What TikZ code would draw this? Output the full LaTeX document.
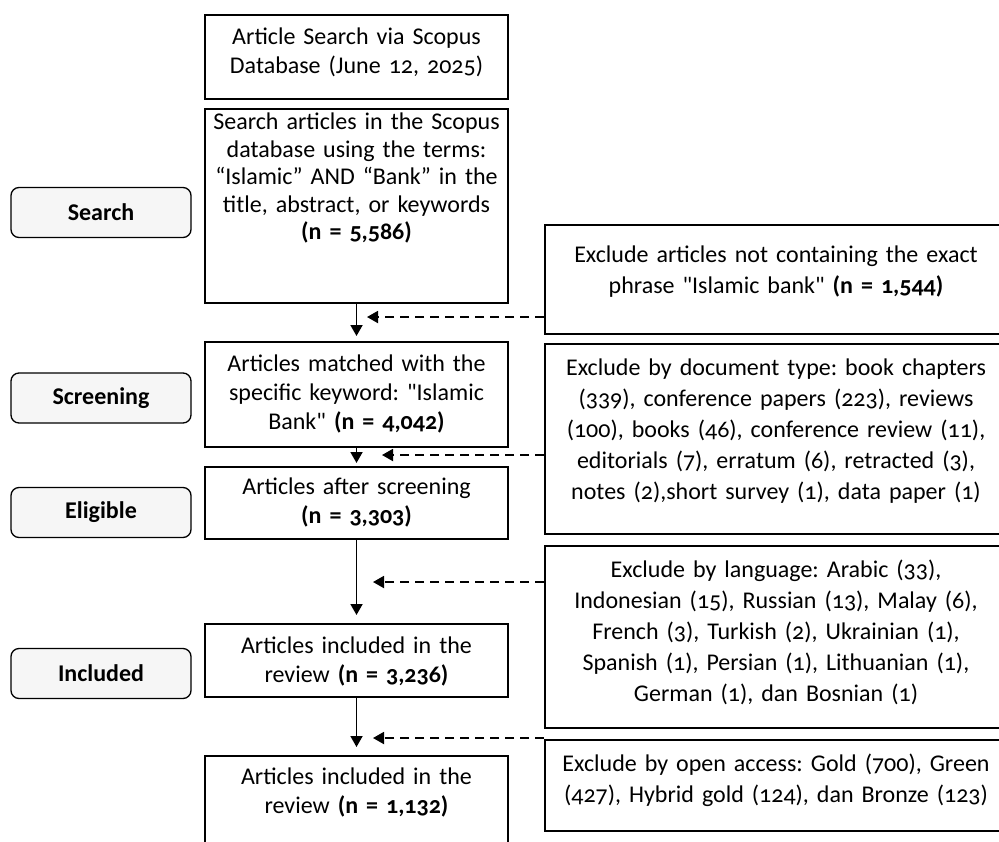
\documentclass[tikz,border=0pt]{standalone}
\usepackage{fontspec}
\setmainfont{Carlito}[Numbers=OldStyle, Ligatures=TeXOff]
\usetikzlibrary{arrows.meta}
\frenchspacing

\begin{document}
\begin{tikzpicture}[x=1pt, y=-1pt,
    stage/.style={draw, line width=1.3pt, rounded corners=8pt, fill=gray!7,
        minimum width=180pt, minimum height=50pt, inner sep=0pt,
        font={\fontsize{24}{29}\selectfont\bfseries}},
    midbox/.style={draw, line width=1.8pt, anchor=north, align=center,
        text width=303pt, inner xsep=0pt, inner ysep=0pt,
        font={\fontsize{24}{29}\selectfont}},
    sidebox/.style={midbox, text width=462pt, font={\fontsize{24}{31}\selectfont}},
    flow/.style={line width=1.8pt, -{Triangle[length=11pt,width=12pt]}, shorten >=5pt},
    exclarrow/.style={line width=1.8pt, dash pattern=on 9pt off 6pt,
        -{Triangle[length=11pt,width=12pt]}}]
    \fill[white] (0,0) rectangle (999,841);
    \useasboundingbox (0,0) rectangle (999,841);
    \clip (0,0) rectangle (999,841);

    % stages
    \node[stage] (search) at (101,212.5) {Search};
    \node[stage] (screen) at (101,398) {Screening};
    \node[stage] (elig) at (101,512.5) {Eligible};
    \node[stage] (incl) at (101,673.5) {Included};

    % main column
    \node[midbox, text height=30pt, text depth=54pt] (b1) at (356.5,14)
        {Article Search via Scopus\\Database (June 12, 2025)};
    \node[midbox, text height=21pt, text depth=173pt, font={\fontsize{24}{27.5}\selectfont}] (b2) at (356.5,108)
        {Search articles in the Scopus\\database using the terms:\\“Islamic” AND “Bank” in the\\title, abstract, or keywords\\\textbf{(n = 5,586)}};
    \node[midbox, text height=30pt, text depth=75pt] (b3) at (356.5,341)
        {Articles matched with the\\specific keyword: "Islamic\\Bank" \textbf{(n = 4,042)}};
    \node[midbox, text height=28pt, text depth=44pt] (b4) at (356.5,466)
        {Articles after screening\\\textbf{(n = 3,303)}};
    \node[midbox, text height=30pt, text depth=43pt] (b5) at (356.5,623)
        {Articles included in the\\review \textbf{(n = 3,236)}};
    \node[midbox, text height=29pt, text depth=76pt] (b6) at (356.5,755)
        {Articles included in the\\review \textbf{(n = 1,132)}};

    % exclusions
    \node[sidebox, text height=38pt, text depth=71pt] (r1) at (776,224)
        {Exclude articles not containing the exact\\phrase "Islamic bank" \textbf{(n = 1,544)}};
    \node[sidebox, text height=32pt, text depth=158pt] (r2) at (776,343)
        {Exclude by document type: book chapters\\(339), conference papers (223), reviews\\(100), books (46), conference review (11),\\editorials (7), erratum (6), retracted (3),\\notes (2),short survey (1), data paper (1)};
    \node[sidebox, text height=32pt, text depth=150pt] (r3) at (776,545)
        {Exclude by language: Arabic (33),\\Indonesian (15), Russian (13), Malay (6),\\French (3), Turkish (2), Ukrainian (1),\\Spanish (1), Persian (1), Lithuanian (1),\\German (1), dan Bosnian (1)};
    \node[sidebox, text height=32pt, text depth=59pt] (r4) at (776,739)
        {Exclude by open access: Gold (700), Green\\(427), Hybrid gold (124), dan Bronze (123)};

    \draw[flow] (b2) -- (b3);
    \draw[flow, shorten >=3pt] (b3) -- (b4);
    \draw[flow, shorten >=8pt] (b4) -- (b5);
    \draw[flow, shorten >=8pt] (b5) -- (b6);

    \coordinate (t1) at (367,317);
    \coordinate (t2) at (382,455);
    \coordinate (t3) at (373,582);
    \coordinate (t4) at (373,738);
    \draw[exclarrow] (r1.west |- t1) -- (t1);
    \draw[exclarrow] (r2.west |- t2) -- (t2);
    \draw[exclarrow] (r3.west |- t3) -- (t3);
    \draw[exclarrow] (r4.west |- t4) -- (t4);
\end{tikzpicture}
\end{document}
